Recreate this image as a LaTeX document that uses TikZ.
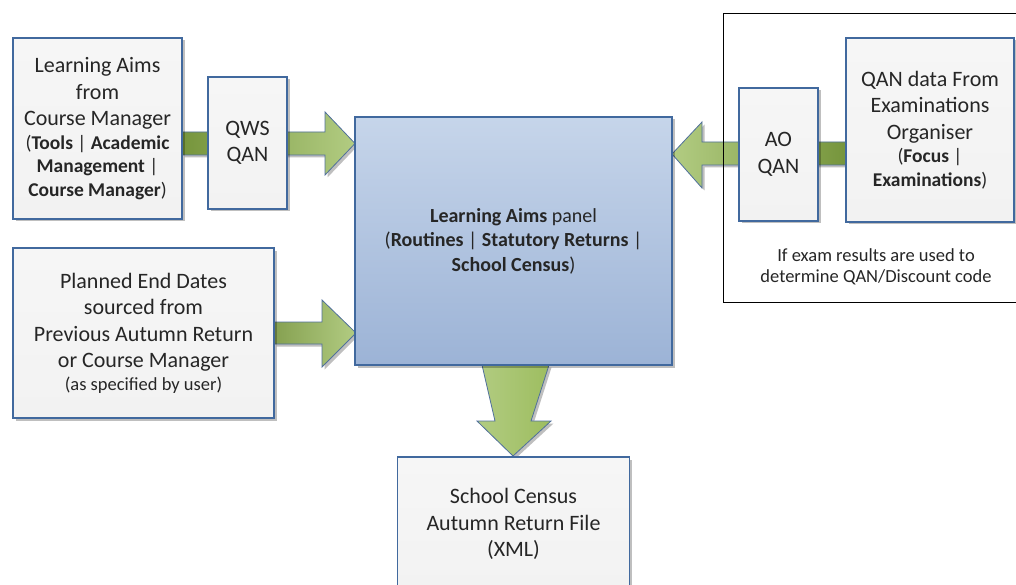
\documentclass[tikz,border=0pt]{standalone}
\usepackage{fontspec}
\setmainfont{Carlito}
\usetikzlibrary{shadows,calc}
\definecolor{boxline}{HTML}{41699E}
\definecolor{boxfill}{HTML}{F2F2F2}
\definecolor{boxfilltop}{HTML}{F6F6F6}
\definecolor{paneltop}{HTML}{C6D5EA}
\definecolor{panelbot}{HTML}{9CB3D6}
\definecolor{arrlight}{HTML}{B2CC82}
\definecolor{arrmid}{HTML}{9DBD5F}
\definecolor{arrdark}{HTML}{76953C}
\definecolor{arrline}{HTML}{50709C}
\definecolor{txt}{HTML}{262626}
\newcommand{\sbf}{\fontsize{19.5}{22.5}\selectfont}
\tikzset{
  shade/.style={drop shadow={shadow xshift=2.5pt, shadow yshift=-2.5pt, fill=black, opacity=0.25}},
  greybox/.style={draw=boxline, line width=1.1pt, top color=boxfilltop, bottom color=boxfill,
    shade, inner sep=0pt, outer sep=0pt, align=center, text=txt,
    font=\fontsize{22}{26.5}\selectfont},
  panelbox/.style={draw=boxline, line width=1.1pt, top color=paneltop, bottom color=panelbot,
    shade, inner sep=0pt, outer sep=0pt, align=center, text=txt,
    font=\fontsize{20}{24.5}\selectfont},
  blockarrow/.style={draw=arrline, line width=0.8pt, shade},
}
\begin{document}
\begin{tikzpicture}[x=1pt,y=-1pt]
\useasboundingbox (0,0) rectangle (1016,585);
\clip (0,0) rectangle (1016,585);
\fill[white] (0,0) rectangle (1016,585);

% arrows
\draw[blockarrow, left color=arrdark, right color=arrlight]
  (182,132) -- (325,132) -- (325,112) -- (355,143.5) -- (325,175) -- (325,155) -- (182,155) -- cycle;
\draw[blockarrow, left color=arrmid!85!black, right color=arrlight]
  (274,322) -- (322,322) -- (322,300) -- (356,333) -- (322,367) -- (322,344) -- (274,344) -- cycle;
\draw[blockarrow, right color=arrdark, left color=arrlight]
  (846,142) -- (702,142) -- (702,122) -- (672,154) -- (702,188) -- (702,165) -- (846,165) -- cycle;
\draw[blockarrow, left color=arrlight, right color=arrmid]
  (482,365) -- (549,365) -- (531,421) -- (551,421) -- (513,456) -- (477,421) -- (495,421) -- cycle;

% frame
\node[draw=black, line width=0.9pt, minimum width=307pt, minimum height=289pt, inner sep=0pt] (frame) at (876.5,157.5) {};

% boxes
\node[greybox, minimum width=169pt, minimum height=181pt] (box1) at (97.5,128.5)
  {Learning Aims\\from\\Course Manager\\[-3pt]
   {\sbf(\textbf{Tools} | \textbf{Academic}}\\[-3pt]
   {\sbf\textbf{Management} |}\\[-3pt]
   {\sbf\textbf{Course Manager})}};
\node[greybox, minimum width=79pt, minimum height=132pt] (qws) at (247.5,143) {QWS\\QAN};
\node[greybox, minimum width=261pt, minimum height=170pt] (box2) at (143.5,333)
  {Planned End Dates\\sourced from\\Previous Autumn Return\\or Course Manager\\[-4pt]
   {\fontsize{18.5}{22}\selectfont(as specified by user)}};
\node[panelbox, minimum width=317pt, minimum height=248pt] (panel) at (513.5,241)
  {\textbf{Learning Aims} panel\\(\textbf{Routines} | \textbf{Statutory Returns} |\\\textbf{School Census})};
\node[greybox, minimum width=79pt, minimum height=133pt] (ao) at (778.5,154.5) {AO\\QAN};
\node[greybox, minimum width=168pt, minimum height=184pt] (qan) at (930,130)
  {QAN data From\\Examinations\\Organiser\\[-3pt]
   {\sbf(\textbf{Focus} |}\\[-3pt]
   {\sbf\textbf{Examinations})}};
\node[greybox, minimum width=232pt, minimum height=134pt] (out) at (513.5,524)
  {School Census\\Autumn Return File\\(XML)};
\node[align=center, text=txt, font=\fontsize{18.5}{21}\selectfont, inner sep=0pt] (cap) at (876,266.5)
  {If exam results are used to\\determine QAN/Discount code};
\end{tikzpicture}
\end{document}
